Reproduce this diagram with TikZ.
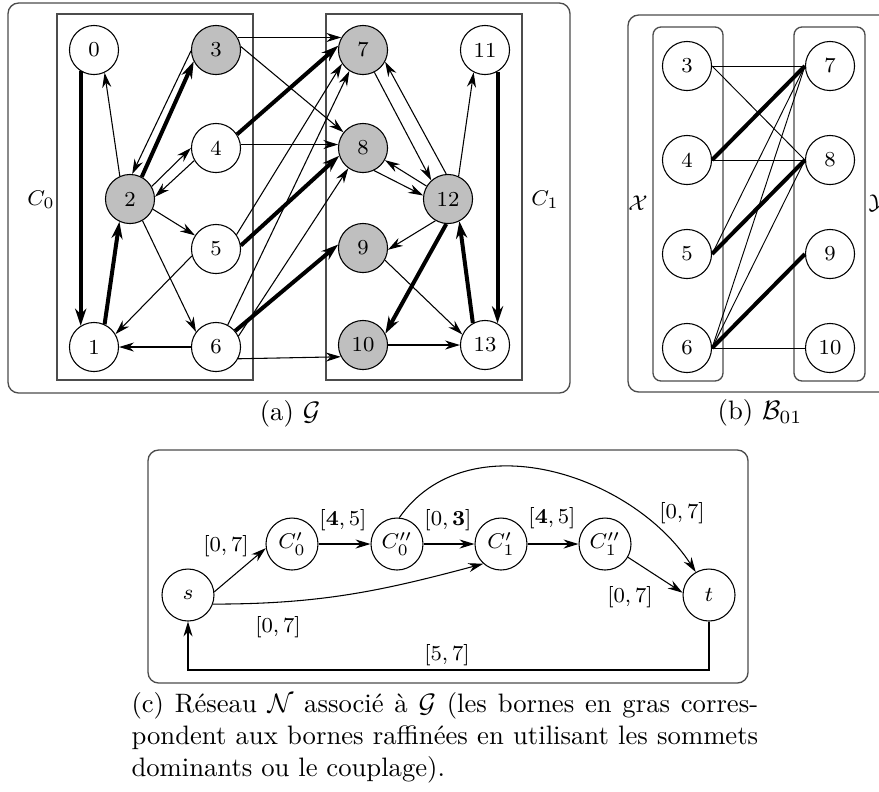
\documentclass[tikz,border=0pt]{standalone}
\usepackage{amsmath}
\usetikzlibrary{arrows.meta}
\tikzset{
  vtx/.style={circle, draw, fill=white, minimum size=18.4pt, inner sep=0pt, font=\footnotesize},
  vtxg/.style={vtx, fill=black!25},
  arc/.style={-{Stealth[length=5.6pt,width=3.4pt]}, line width=0.4pt},
  arcb/.style={-{Stealth[length=6.4pt,width=4.2pt]}, line width=1.5pt},
  lien/.style={line width=0.35pt},
  lienb/.style={line width=1.5pt},
  cadre/.style={draw=black!70, line width=0.5pt, rounded corners=4pt},
  bloc/.style={draw=black!70, line width=0.5pt},
  lbl/.style={font=\footnotesize, inner sep=0pt},
}

\begin{document}
\begin{tikzpicture}[x=0.375pt,y=0.375pt]
\useasboundingbox (0,0) rectangle (879,-791);

% (a) le graphe G
\draw[cadre] (8,-3) rectangle (570,-393);
\draw[bloc] (57,-14) rectangle (253,-380);
\draw[bloc] (326,-14) rectangle (522,-380);
\node[lbl] (c0) at (41,-200) {$C_0$};
\node[lbl] (c1) at (545,-200) {$C_1$};

\node[vtx]  (v0)  at (94,-50)   {0};
\node[vtxg] (v3)  at (216,-50)  {3};
\node[vtx]  (v4)  at (216,-148) {4};
\node[vtxg] (v2)  at (130,-199) {2};
\node[vtx]  (v5)  at (216,-249) {5};
\node[vtx]  (v1)  at (94,-347)  {1};
\node[vtx]  (v6)  at (216,-347) {6};
\node[vtxg] (v7)  at (363,-50)  {7};
\node[vtx]  (v11) at (485,-50)  {11};
\node[vtxg] (v8)  at (363,-148) {8};
\node[vtxg] (v12) at (448,-199) {12};
\node[vtxg] (v9)  at (363,-248) {9};
\node[vtxg] (v10) at (363,-345) {10};
\node[vtx]  (v13) at (485,-345) {13};

\foreach \a/\b in {v2.114/v0.-65, v3.182/v2.85, v2.30/v4.180, v4.210/v2.5,
  v2.-24/v5.147, v2.-60/v6.143, v5.196/v1.31, v6/v1,
  v3.30/v7.150, v3.8/v8.141, v4.8/v8.172, v5.35/v7.213, v6.62/v7.237,
  v6.26/v8.234, v6.-28/v10.208,
  v7.-63/v12.132, v12.94/v7.-28, v8.-64/v12.172, v12.149/v8.-29,
  v12.65/v11.-117, v12.-120/v9.-4, v9.-29/v13.155, v10/v13}
  \draw[arc] (\a) -- (\b);
\foreach \a/\b in {v0.238/v1.122, v1.65/v2.-115, v2.62/v3.207, v4.33/v7.170,
  v5.8/v8.198, v6/v9.172, v11.-60/v13.60, v13.119/v12.-63, v12.-94/v10.27}
  \draw[arcb] (\a) -- (\b);

\node (capa) at (290,-414) {(a) $\mathcal{G}$};

% (b) le biparti B01
\draw[cadre] (628,-15) rectangle (892,-392);
\draw[cadre, rounded corners=3pt] (653,-27) rectangle (723,-381);
\draw[cadre, rounded corners=3pt] (794,-27) rectangle (865,-381);
\node[lbl] (lx) at (638,-203) {$\mathcal{X}$};
\node[lbl] (ly) at (877,-203) {$\mathcal{Y}$};

\foreach \n/\y in {3/66, 4/160, 5/254, 6/348}
  \node[vtx] (x\n) at (687,-\y) {\n};
\foreach \n/\y in {7/66, 8/160, 9/254, 10/348}
  \node[vtx] (y\n) at (830,-\y) {\n};

\foreach \a/\b in {3/7, 3/8, 4/8, 5/7, 6/7, 6/8, 6/10}
  \draw[lien] (x\a.east) -- (y\b.west);
\foreach \a/\b in {4/7, 5/8, 6/9}
  \draw[lienb] (x\a.east) -- (y\b.west);

\node (capb) at (760,-413) {(b) $\mathcal{B}_{01}$};

% (c) le reseau N
\draw[cadre] (148,-450) rectangle (748,-683);
\node[vtx, minimum size=19.5pt] (s)   at (188,-595) {$s$};
\node[vtx, minimum size=19.5pt] (cp0) at (292,-544) {$C'_0$};
\node[vtx, minimum size=19.5pt] (cs0) at (397,-544) {$C''_0$};
\node[vtx, minimum size=19.5pt] (cp1) at (501,-544) {$C'_1$};
\node[vtx, minimum size=19.5pt] (cs1) at (605,-544) {$C''_1$};
\node[vtx, minimum size=19.5pt] (t)   at (709,-595) {$t$};
\coordinate (bas) at (448,-670);

\draw[arc] (s.7) -- (cp0.189);
\draw[arc] (cp0) -- (cs0);
\draw[arc] (cs0) -- (cp1);
\draw[arc] (cp1) -- (cs1);
\draw[arc] (cs1.-30) -- (t.175);
\draw[arc] (s.-20) to[out=0,in=195] (cp1.228);
\draw[arc] (cs0.85) to[out=55,in=123] (t.120);
\draw[arc] (t.south) |- (bas) -| (s.south);

\node[lbl] (l1) at (226,-546) {$[0,7]$};
\node[lbl] (l2) at (343,-520) {$[\mathbf{4},5]$};
\node[lbl] (l3) at (448,-520) {$[0,\mathbf{3}]$};
\node[lbl] (l4) at (552,-518) {$[\mathbf{4},5]$};
\node[lbl] (l5) at (682,-513) {$[0,7]$};
\node[lbl] (l6) at (630,-597) {$[0,7]$};
\node[lbl] (l7) at (278,-627) {$[0,7]$};
\node[lbl] (l8) at (447,-655) {$[5,7]$};

\node[anchor=north west, text width=235pt, align=justify, inner sep=0pt] (capc)
  at (131,-692) {(c) Réseau $\mathcal{N}$ associé à $\mathcal{G}$ (les bornes en gras corres-\linebreak
  pondent aux bornes raffinées en utilisant les sommets\linebreak dominants ou le couplage).};
\end{tikzpicture}
\end{document}
